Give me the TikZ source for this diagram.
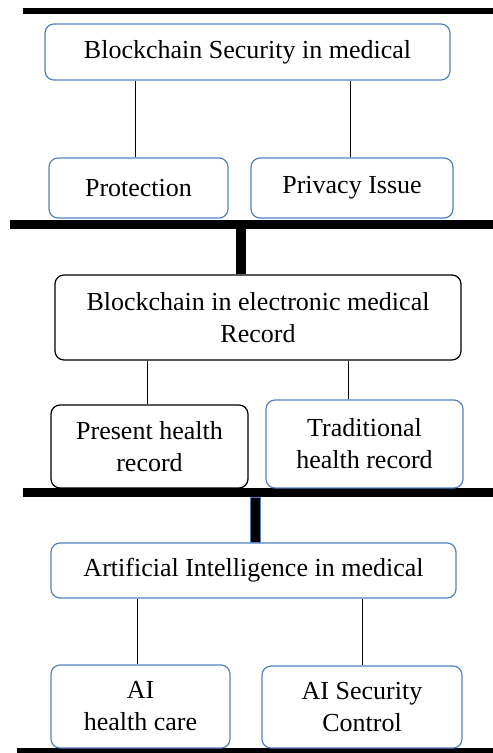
\documentclass[tikz,border=0pt]{standalone}
\usepackage{fontspec}
\setmainfont{Liberation Serif}
\definecolor{bblue}{RGB}{84,130,190}
\begin{document}
\begin{tikzpicture}[x=1pt,y=-1pt,
  box/.style={draw=bblue,line width=1.2pt,rounded corners=9pt,inner sep=0pt,align=center,
    font=\fontsize{26}{32}\selectfont},
  kbox/.style={box,draw=black},
  bar/.style={fill=black,draw=none,inner sep=0pt,minimum height=#1},
  conn/.style={draw=black,line width=0.9pt}]
\useasboundingbox (0,0) rectangle (493,753);
% horizontal bars
\node[bar=6pt,minimum width=470pt] (bar0) at (258,11) {};
\node[bar=9pt,minimum width=483pt] (bar1) at (251.5,224.5) {};
\node[bar=9pt,minimum width=470pt] (bar2) at (258,492.5) {};
\node[bar=6pt,minimum width=476pt] (bar3) at (255,750.5) {};
% boxes
\node[box,minimum width=405pt,minimum height=56pt] (b1) at (247.5,52) {Blockchain Security in medical};
\node[box,minimum width=179pt,minimum height=60pt] (prot) at (138.5,188) {Protection};
\node[box,minimum width=202pt,minimum height=60pt] (priv) at (352,188) {Privacy Issue};
\node[kbox,minimum width=406pt,minimum height=85pt] (b2) at (258,317.5) {Blockchain in electronic medical\\Record};
\node[kbox,minimum width=197pt,minimum height=83pt] (pres) at (149.5,446.5) {Present health\\record};
\node[box,minimum width=197pt,minimum height=88pt] (trad) at (364.5,444) {Traditional\\health record};
\node[box,minimum width=405pt,minimum height=55pt] (b3) at (253.5,570.5) {Artificial Intelligence in medical};
\node[box,minimum width=179pt,minimum height=83pt] (aih) at (140.5,706.5) {AI\\health care};
\node[box,minimum width=200pt,minimum height=82pt] (ais) at (362,707) {AI Security\\Control};
% thick vertical links
\fill[black] (bar1.south -| 236,0) rectangle (b2.north -| 246,0);
\fill[black,draw=bblue,line width=0.8pt] (bar2.south -| 250,0) rectangle (b3.north -| 260,0);
% thin connectors
\draw[conn] ([xshift=-3.5pt]prot.north) -- ([xshift=-3.5pt]prot.north |- b1.south);
\draw[conn] ([xshift=-2pt]priv.north) -- ([xshift=-2pt]priv.north |- b1.south);
\draw[conn] ([xshift=-2.5pt]pres.north) -- ([xshift=-2.5pt]pres.north |- b2.south);
\draw[conn] ([xshift=-16.5pt]trad.north) -- ([xshift=-16.5pt]trad.north |- b2.south);
\draw[conn] ([xshift=-3.5pt]aih.north) -- ([xshift=-3.5pt]aih.north |- b3.south);
\draw[conn] (ais.north) -- (ais.north |- b3.south);
\end{tikzpicture}
\end{document}
